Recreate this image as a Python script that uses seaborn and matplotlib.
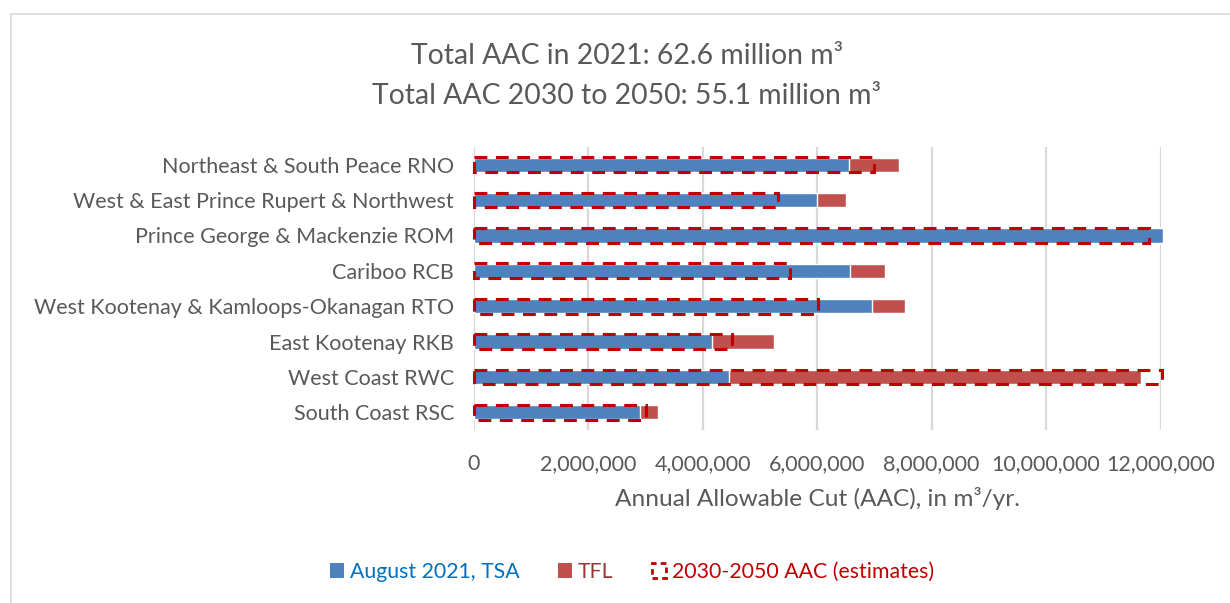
import matplotlib
matplotlib.use("Agg")
import matplotlib.pyplot as plt
from matplotlib.patches import Patch
from matplotlib.lines import Line2D
from matplotlib.ticker import FuncFormatter
import seaborn as sns
import pandas as pd

# Annual allowable cut by natural resource region (m³/yr)
regions = [
    "Northeast & South Peace RNO",
    "West & East Prince Rupert & Northwest",
    "Prince George & Mackenzie ROM",
    "Cariboo RCB",
    "West Kootenay & Kamloops-Okanagan RTO",
    "East Kootenay RKB",
    "West Coast RWC",
    "South Coast RSC",
]
tsa_2021 = [6.56e6, 6.00e6, 12.04e6, 6.58e6, 6.95e6, 4.17e6, 4.47e6, 2.90e6]
tfl_2021 = [0.87e6, 0.50e6, 0.0, 0.60e6, 0.59e6, 1.07e6, 7.19e6, 0.33e6]
aac_2030_2050 = [7.00e6, 5.31e6, 11.80e6, 5.52e6, 6.01e6, 4.52e6, 12.02e6, 3.01e6]
x_ticks = [0, 2e6, 4e6, 6e6, 8e6, 10e6, 12e6]

title_lines = ["Total AAC in 2021: 62.6 million m³", "Total AAC 2030 to 2050: 55.1 million m³"]
x_label = "Annual Allowable Cut (AAC), in m³/yr."
legend_labels = ["August 2021, TSA", "TFL", "2030-2050 AAC (estimates)"]

BLUE = "#4F81BD"
RED = "#C0504D"
DASH = "#C00000"
TEXT = "#595959"
GRID = "#D9D9D9"

df = pd.DataFrame({
    "region": regions,
    "tsa": tsa_2021,
    "total": [a + b for a, b in zip(tsa_2021, tfl_2021)],
    "est": aac_2030_2050,
})

sns.set_theme(style="white")
plt.rcParams["font.family"] = ["Lato", "DejaVu Sans"]

fig = plt.figure(figsize=(12.3, 6.03), dpi=100)
ax = fig.add_axes([473.5 / 1230, 1 - 430 / 603, (1160.7 - 473.5) / 1230, (430 - 147) / 603])

# stacked bars: TSA+TFL total underneath, TSA on top
sns.barplot(data=df, x="total", y="region", order=regions, color=RED,
            width=0.4, saturation=1, ax=ax, zorder=2)
sns.barplot(data=df, x="tsa", y="region", order=regions, color=BLUE,
            width=0.4, saturation=1, ax=ax, zorder=3)
# 2030-2050 estimates as dashed outlines
sns.barplot(data=df, x="est", y="region", order=regions, fill=False,
            edgecolor=DASH, linewidth=2.2, linestyle=(0, (4.2, 2.8)),
            width=0.42, ax=ax, zorder=4)
for p in ax.patches:
    p.set_clip_on(False)

ax.set_xlim(0, 12e6)
ax.set_ylim(len(regions) - 0.5, -0.5)
ax.set_xticks(x_ticks)
ax.xaxis.set_major_formatter(FuncFormatter(lambda v, _: f"{v:,.0f}"))
ax.grid(axis="x", color=GRID, linewidth=1.6, zorder=0)
ax.set_axisbelow(True)
for s in ax.spines.values():
    s.set_visible(False)
ax.tick_params(axis="both", length=0, labelsize=15.5, colors=TEXT)
ax.tick_params(axis="y", pad=14)
ax.tick_params(axis="x", pad=17)
ax.set_ylabel("")
ax.set_xlabel(x_label, fontsize=17.6, color=TEXT, labelpad=10)

fig.text(627 / 1230, 1 - 56 / 603, title_lines[0], ha="center", va="center",
         fontsize=20.4, color=TEXT)
fig.text(627 / 1230, 1 - 96 / 603, title_lines[1], ha="center", va="center",
         fontsize=20.4, color=TEXT)

handles = [
    Patch(facecolor=BLUE, edgecolor="none"),
    Patch(facecolor=RED, edgecolor="none"),
    Patch(facecolor="none", edgecolor=DASH, linewidth=2, linestyle=(0, (2, 1.5))),
]
fig.legend(handles, legend_labels, loc="center", bbox_to_anchor=(632 / 1230, 1 - 572 / 603),
           ncol=3, frameon=False, fontsize=15.3, handlelength=0.65, handleheight=0.65,
           handletextpad=0.3, columnspacing=1.8,
           labelcolor=["#0070C0", "#953735", DASH])

# chart area border
fig.add_artist(Line2D([11 / 1230, 11 / 1230], [0, 1 - 14 / 603], color=GRID, linewidth=1.2))
fig.add_artist(Line2D([11 / 1230, 1], [1 - 14 / 603, 1 - 14 / 603], color=GRID, linewidth=1.2))

fig.savefig("out.png", dpi=100, facecolor="white")
